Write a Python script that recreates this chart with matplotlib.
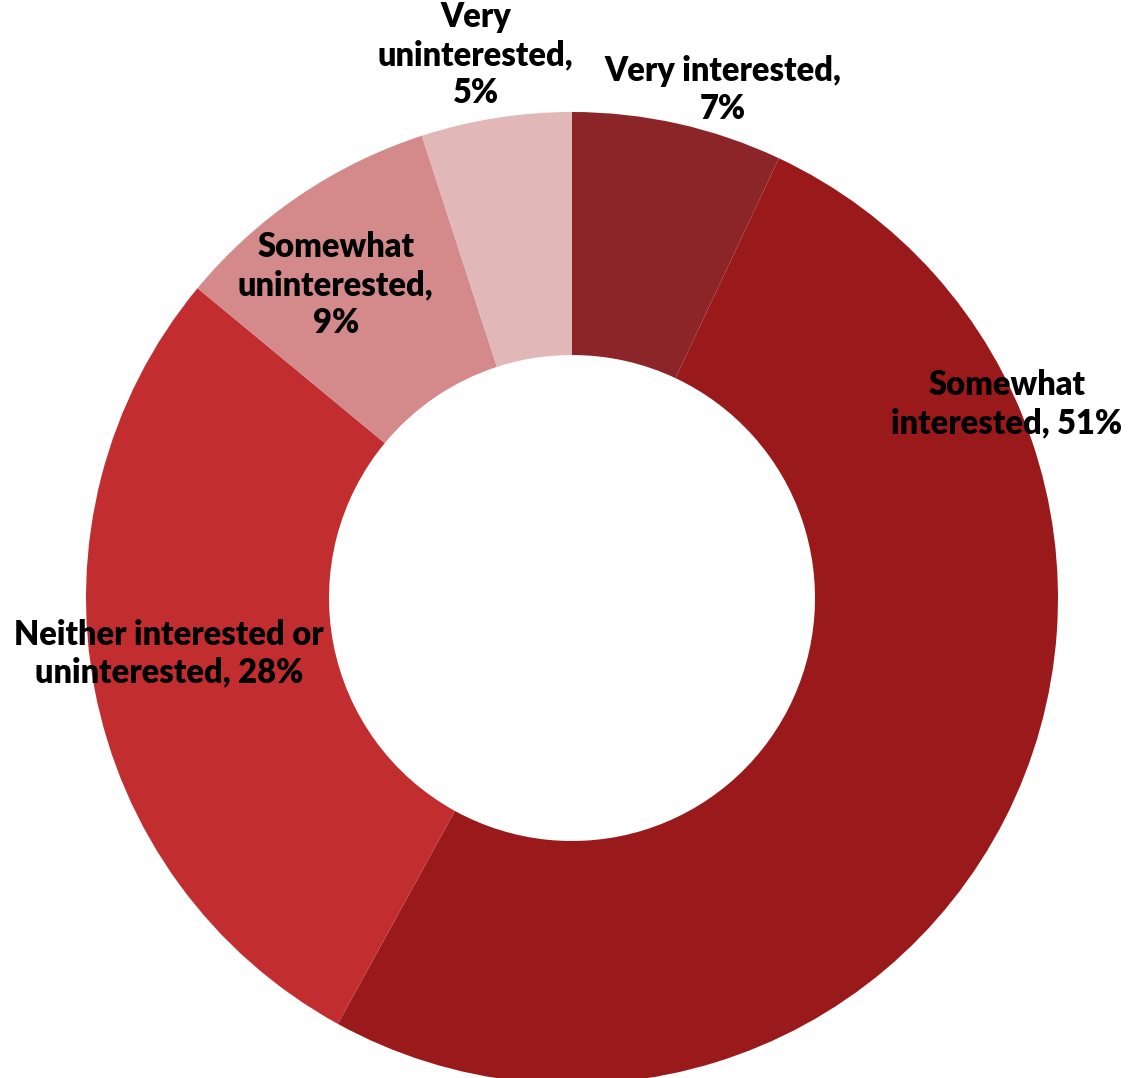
import matplotlib.pyplot as plt

# Survey responses, clockwise from 12 o'clock
categories = ["Very interested", "Somewhat interested", "Neither interested or uninterested",
              "Somewhat uninterested", "Very uninterested"]
shares = [7, 51, 28, 9, 5]
label_texts = ["Very interested,\n7%", "Somewhat\ninterested, 51%",
               "Neither interested or\nuninterested, 28%",
               "Somewhat\nuninterested,\n9%", "Very\nuninterested,\n5%"]

colors = ["#8C2527", "#9A191A", "#C22D2F", "#D4898A", "#E2B7B8"]
# label centres in data units (outer radius = 1)
label_pos = [(0.311, 1.045), (0.895, 0.399), (-0.829, -0.115), (-0.486, 0.644), (-0.198, 1.117)]

fig = plt.figure(figsize=(11.37, 10.78), dpi=100)
ax = fig.add_axes([0, 0, 1, 1])

ax.pie(shares, colors=colors, startangle=90, counterclock=False,
       wedgeprops=dict(width=0.5, linewidth=0), radius=1.0)

for txt, (x, y) in zip(label_texts, label_pos):
    ax.text(x, y, txt, ha="center", va="center", fontsize=23.5, fontweight="heavy",
            family="Lato", color="black", linespacing=1.22)

ax.set_xlim(-572 / 486, (1137 - 572) / 486)
ax.set_ylim((598 - 1078) / 486, 598 / 486)
ax.set_aspect("equal")
ax.axis("off")

fig.savefig("out.png", dpi=100)
